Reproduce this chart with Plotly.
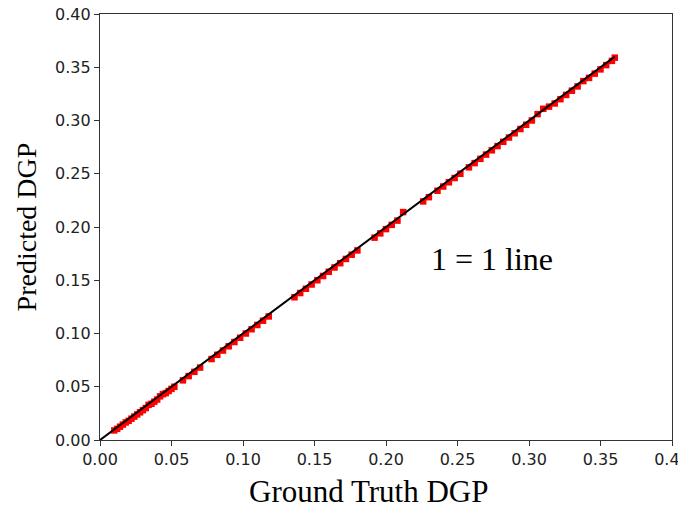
import plotly.graph_objects as go

truth = [0.010,0.012,0.014,0.016,0.018,0.020,0.022,0.024,0.026,0.028,
         0.030,0.032,0.034,0.036,0.038,0.040,0.042,0.044,0.046,0.048,
         0.050,0.052,0.058,0.062,0.066,0.070,0.078,0.082,0.086,0.090,
         0.094,0.098,0.102,0.106,0.110,0.114,0.118,0.136,0.140,0.144,
         0.148,0.152,0.156,0.160,0.164,0.168,0.172,0.176,0.180,0.192,
         0.196,0.200,0.204,0.208,0.212,0.226,0.230,0.236,0.240,0.244,
         0.248,0.252,0.258,0.262,0.266,0.270,0.274,0.278,0.282,0.286,
         0.290,0.294,0.298,0.302,0.306,0.310,0.314,0.318,0.322,0.326,
         0.330,0.334,0.338,0.342,0.346,0.350,0.354,0.358,0.360]
predicted = [0.009,0.0105,0.0125,0.0145,0.0165,0.018,0.020,0.022,0.024,0.026,
             0.028,0.030,0.033,0.034,0.036,0.038,0.041,0.043,0.044,0.046,
             0.048,0.050,0.056,0.060,0.064,0.068,0.076,0.080,0.084,0.088,
             0.092,0.096,0.100,0.104,0.108,0.112,0.116,0.134,0.138,0.142,
             0.146,0.150,0.154,0.158,0.162,0.166,0.170,0.174,0.178,0.190,
             0.194,0.198,0.202,0.206,0.214,0.224,0.228,0.234,0.238,0.242,
             0.246,0.250,0.256,0.260,0.264,0.268,0.272,0.276,0.280,0.284,
             0.288,0.292,0.296,0.300,0.306,0.311,0.313,0.316,0.320,0.324,
             0.328,0.332,0.337,0.340,0.344,0.348,0.352,0.356,0.359]
identity_x = [0.0, 0.36]
identity_y = [0.0, 0.36]
tick_vals = [0.00,0.05,0.10,0.15,0.20,0.25,0.30,0.35,0.40]
tick_text = ["0.00","0.05","0.10","0.15","0.20","0.25","0.30","0.35","0.40"]

serif = "Liberation Serif, Times New Roman, serif"

fig = go.Figure()
fig.add_trace(go.Scatter(x=truth, y=predicted, mode="markers",
                         marker=dict(color="#ff0000", size=6.5, symbol="square"),
                         showlegend=False, cliponaxis=False))
fig.add_trace(go.Scatter(x=identity_x, y=identity_y, mode="lines",
                         line=dict(color="black", width=2), showlegend=False))

fig.add_annotation(x=0.274, y=0.170, text="1 = 1 line", showarrow=False,
                   font=dict(family=serif, size=32, color="black"))
fig.add_annotation(xref="paper", yref="paper", x=0.469, y=-0.122,
                   text="Ground Truth DGP", showarrow=False,
                   xanchor="center", yanchor="middle",
                   font=dict(family=serif, size=31, color="black"))

axis_common = dict(range=[0, 0.4], tickvals=tick_vals, ticktext=tick_text,
                   showgrid=False, zeroline=False, showline=True, mirror=True,
                   linecolor="#333333", linewidth=1.3, ticks="outside", ticklen=5,
                   tickcolor="#333333", automargin=False, ticklabeloverflow="allow",
                   tickfont=dict(family="DejaVu Sans, sans-serif", size=16, color="#222222"))

fig.update_xaxes(**axis_common)
fig.update_yaxes(**axis_common,
                 title=dict(text="Predicted DGP", standoff=10,
                            font=dict(family=serif, size=28, color="black")))

fig.update_layout(width=686, height=510, plot_bgcolor="white", paper_bgcolor="white",
                  margin=dict(l=92, r=22, t=6, b=78))

fig.write_html("out.html")
